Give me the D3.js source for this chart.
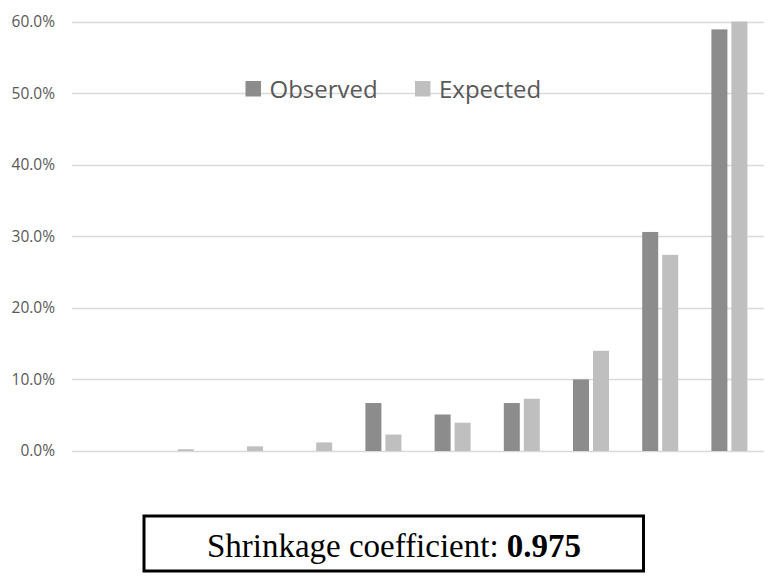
<!DOCTYPE html>
<html><head><meta charset="utf-8">
<script src="https://cdn.jsdelivr.net/npm/d3@7"></script>
<style>body{margin:0;background:#fff}svg{display:block}</style>
</head><body>
<svg id="c" width="772" height="584"></svg>
<script>
const categories = ["1","2","3","4","5","6","7","8","9","10"];
const seriesNames = ["Observed","Expected"];
const observed = [0, 0, 0, 0, 6.7, 5.1, 6.7, 10.0, 30.6, 58.9];
const expected = [0, 0.25, 0.65, 1.2, 2.3, 3.95, 7.3, 14.0, 27.4, 60.0];
const yTicks = [0, 10, 20, 30, 40, 50, 60];
const annotationLabel = "Shrinkage coefficient: ";
const annotationValue = "0.975";

const colors = {Observed: "#8c8c8c", Expected: "#bfbfbf"};
const svg = d3.select("#c");
const plotL = 72, plotR = 764, plotT = 21.5, plotB = 451;

const x = d3.scaleBand().domain(categories).range([plotL, plotR]);
const x1 = d3.scaleBand().domain(seriesNames).range([0, x.bandwidth()]).paddingInner(0.2).paddingOuter(0.83);
const y = d3.scaleLinear().domain([0, 60]).range([plotB, plotT]);

// gridlines
svg.append("g").selectAll("line").data(yTicks).join("line")
  .attr("x1", plotL).attr("x2", plotR)
  .attr("y1", d => Math.round(y(d)) + 0.5).attr("y2", d => Math.round(y(d)) + 0.5)
  .attr("stroke", "#d9d9d9").attr("stroke-width", 1.5);

// y axis labels
const yAxis = d3.axisLeft(y).tickValues(yTicks).tickSize(0).tickPadding(0)
  .tickFormat(d => d.toFixed(1) + "%");
const ga = svg.append("g").attr("transform", `translate(55,0)`).call(yAxis);
ga.select(".domain").remove();
ga.selectAll("text").attr("font-family", "'Open Sans', sans-serif").attr("font-size", 15.5)
  .attr("fill", "#595959");

// bars
const data = categories.map((c, i) => ({c, vals: [
  {k: "Observed", v: observed[i]}, {k: "Expected", v: expected[i]}]}));
const g = svg.append("g").selectAll("g").data(data).join("g")
  .attr("transform", d => `translate(${x(d.c)},0)`);
g.selectAll("rect").data(d => d.vals).join("rect")
  .attr("x", d => x1(d.k)).attr("width", x1.bandwidth())
  .attr("y", d => y(d.v)).attr("height", d => y(0) - y(d.v))
  .attr("fill", d => colors[d.k]);

// legend
const legendX = [245.5, 415];
const lg = svg.append("g").selectAll("g").data(seriesNames).join("g")
  .attr("transform", (d, i) => `translate(${legendX[i]},81)`);
lg.append("rect").attr("width", 15.5).attr("height", 15.5).attr("fill", d => colors[d]);
lg.append("text").attr("x", 24).attr("y", 16.5).text(d => d)
  .attr("font-family", "'Open Sans', sans-serif").attr("font-size", 24).attr("fill", "#595959");

// annotation box
svg.append("rect").attr("x", 144).attr("y", 516).attr("width", 499.5).attr("height", 55)
  .attr("fill", "none").attr("stroke", "#000").attr("stroke-width", 3);
const t = svg.append("text").attr("x", 394).attr("y", 557).attr("text-anchor", "middle")
  .attr("font-family", "'Liberation Serif', 'Times New Roman', serif").attr("font-size", 33).attr("fill", "#000");
t.append("tspan").text(annotationLabel);
t.append("tspan").attr("font-weight", "bold").text(annotationValue);
</script>
</body></html>
